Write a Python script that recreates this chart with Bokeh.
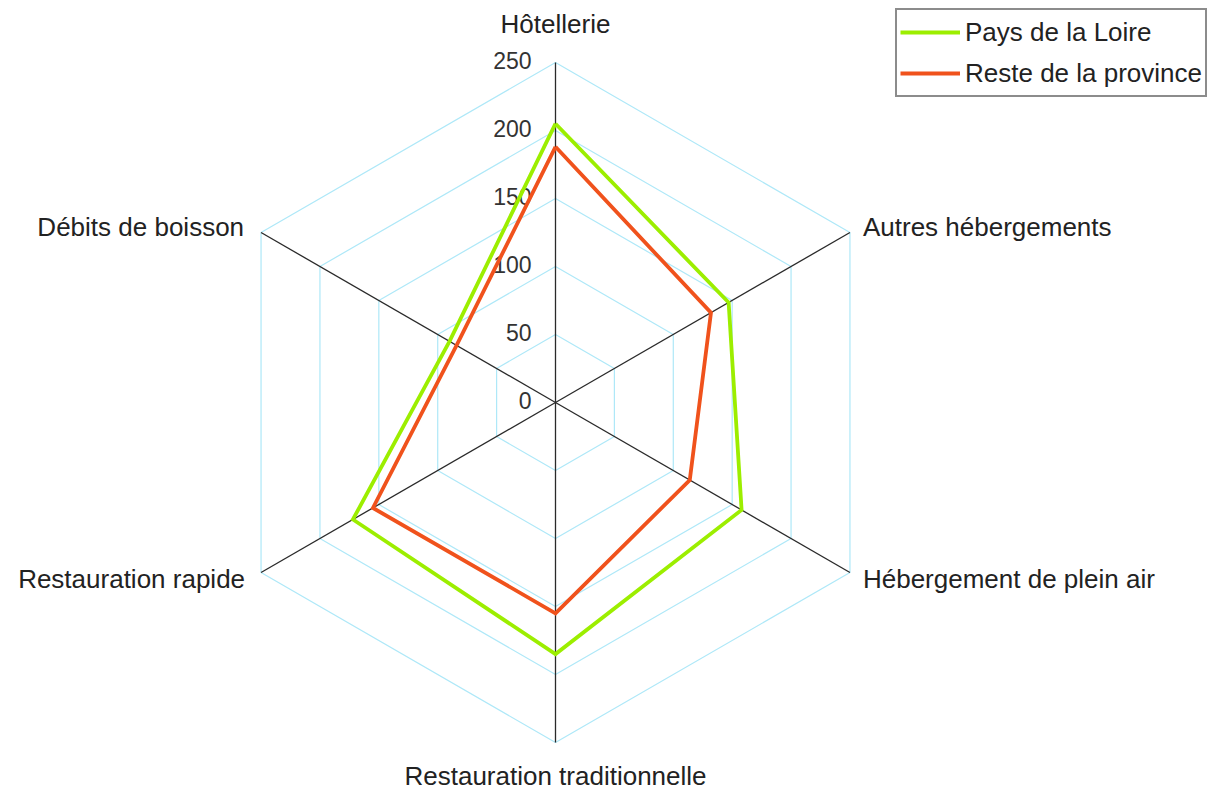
import numpy as np
from bokeh.plotting import figure
from bokeh.models import Range1d, Legend, LegendItem
from bokeh.core.properties import value
from bokeh.embed import file_html
from bokeh.resources import INLINE

categories = ["Hôtellerie", "Autres hébergements", "Hébergement de plein air",
              "Restauration traditionnelle", "Restauration rapide", "Débits de boisson"]
pays_de_la_loire = [205, 147, 158, 185, 172, 90]
reste_province = [188, 132, 114, 155, 155, 84]
ticks = [0, 50, 100, 150, 200, 250]
tick_labels = ["0", "50", "100", "150", "200", "250"]
series_names = ["Pays de la Loire", "Reste de la province"]

RMAX = 250
PX = 1.36  # pixels per value unit
FONT = "Liberation Sans"
W, H = 1218, 789
CX, CY = 555, 402  # centre in page pixels

angles = np.deg2rad(90 - 60 * np.arange(len(categories)))
ca, sa = np.cos(angles), np.sin(angles)

p = figure(width=W, height=H, output_backend="svg", toolbar_location=None,
           x_range=Range1d(-CX / PX, (W - CX) / PX),
           y_range=Range1d(-(H - CY) / PX, CY / PX),
           min_border=0, outline_line_color=None)
p.axis.visible = False
p.grid.visible = False
p.background_fill_color = "white"
p.border_fill_color = "white"

# grid hexagons
gx, gy = [], []
for r in ticks[1:]:
    gx.append(list(r * ca) + [r * ca[0]])
    gy.append(list(r * sa) + [r * sa[0]])
p.multi_line(gx, gy, line_color="#aee8f8", line_width=1.2)

# spokes
p.multi_line([[0, RMAX * c] for c in ca], [[0, RMAX * s] for s in sa],
             line_color="#2a2a2a", line_width=1.3)

# tick labels
p.text(x=[-24 / PX] * len(ticks), y=[t + 2 / PX for t in ticks], text=tick_labels,
       text_align="right", text_baseline="middle", text_font=value(FONT),
       text_font_size="23px", text_color="#333333")

# category labels
offsets = [(0, 39, "center"), (13, 6, "left"), (13, -6, "left"),
           (0, -33, "center"), (-16, -6, "right"), (-17, 6, "right")]
for i, cat in enumerate(categories):
    dx, dy, al = offsets[i]
    p.text(x=[RMAX * ca[i] + dx / PX], y=[RMAX * sa[i] + dy / PX], text=[cat],
           text_align=al, text_baseline="middle", text_font=value(FONT),
           text_font_size="26px", text_color="#222222")

# data
colors = ["#9cee00", "#f0521c"]
renderers = []
for vals, col in zip([pays_de_la_loire, reste_province], colors):
    v = np.array(vals, dtype=float)
    xs = list(v * ca) + [v[0] * ca[0]]
    ys = list(v * sa) + [v[0] * sa[0]]
    r = p.line(xs, ys, line_color=col, line_width=3.8, line_join="miter")
    renderers.append(r)

legend = Legend(items=[LegendItem(label=n, renderers=[r]) for n, r in zip(series_names, renderers)],
                location=(895, H - 97), margin=0, padding=3, spacing=3,
                glyph_width=60, glyph_height=38, label_height=38, label_standoff=5,
                label_text_font=FONT, label_text_font_size="26px", label_text_color="#222222",
                border_line_color="#1a1a1a", border_line_width=2,
                background_fill_color="white", background_fill_alpha=1.0)
p.add_layout(legend)

open("out.html", "w").write(file_html(p, INLINE))
